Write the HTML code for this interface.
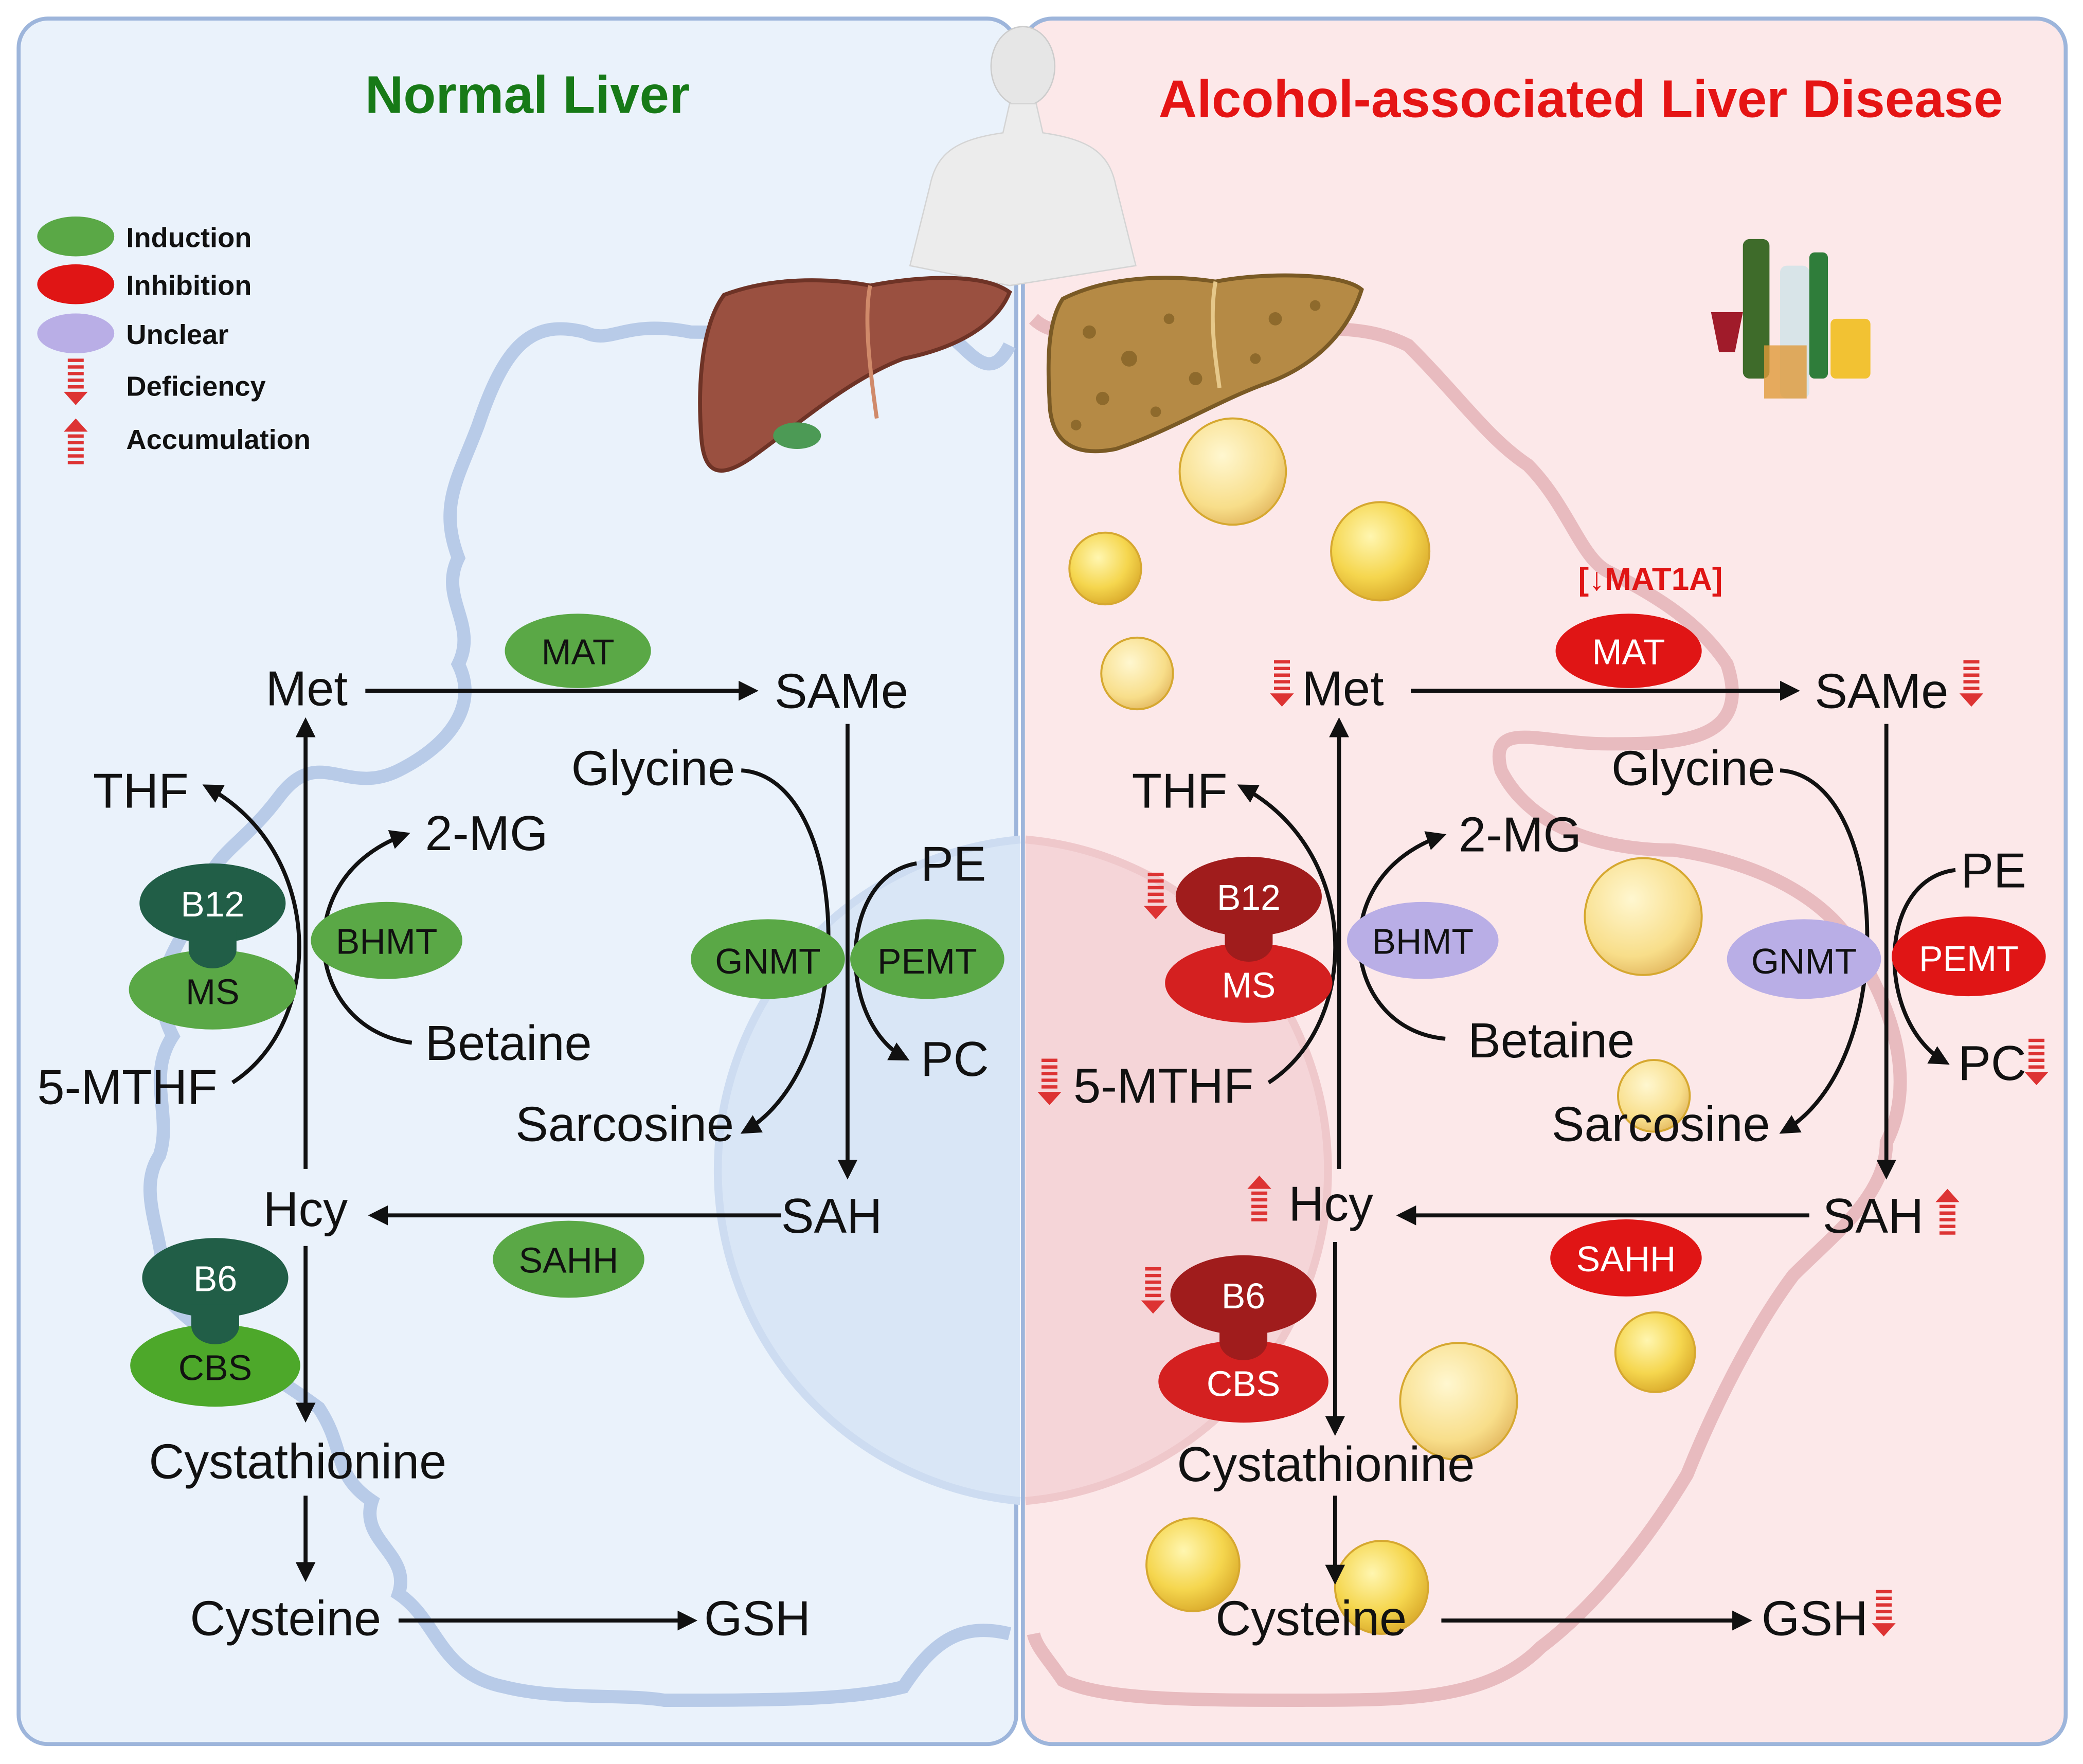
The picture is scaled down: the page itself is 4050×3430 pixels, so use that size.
<!DOCTYPE html>
<html><head><meta charset="utf-8"><style>
html,body{margin:0;padding:0;background:#fff}
svg{display:block}
text{font-family:"Liberation Sans",Arial,sans-serif}
</style></head><body>
<svg width="4050" height="3430" viewBox="0 0 1568 1328" xmlns="http://www.w3.org/2000/svg">
<defs>
<marker id="ah" viewBox="0 0 10 10" refX="8" refY="5" markerWidth="5" markerHeight="5" orient="auto"><path d="M0,0 L10,5 L0,10 z" fill="#111"/></marker>
<radialGradient id="fat" cx="0.4" cy="0.35" r="0.7"><stop offset="0" stop-color="#fff6b0"/><stop offset="0.6" stop-color="#f5d64e"/><stop offset="1" stop-color="#d9a92a"/></radialGradient>
<radialGradient id="fat2" cx="0.4" cy="0.35" r="0.7"><stop offset="0" stop-color="#fff7d0"/><stop offset="0.7" stop-color="#f8de8a"/><stop offset="1" stop-color="#e3b860"/></radialGradient>
<g id="def"><rect x="-6" y="-18" width="12" height="2.5" fill="#d33"/><rect x="-6" y="-13" width="12" height="2.5" fill="#d33"/><rect x="-6" y="-8" width="12" height="2.5" fill="#d33"/><rect x="-6" y="-3" width="12" height="2.5" fill="#d33"/><rect x="-6" y="2" width="12" height="2.5" fill="#d33"/><path d="M-9,7 L9,7 L0,17 z" fill="#d33"/></g>
<g id="acc"><path d="M-9,-7 L9,-7 L0,-17 z" fill="#d33"/><rect x="-6" y="-5" width="12" height="2.5" fill="#d33"/><rect x="-6" y="0" width="12" height="2.5" fill="#d33"/><rect x="-6" y="5" width="12" height="2.5" fill="#d33"/><rect x="-6" y="10" width="12" height="2.5" fill="#d33"/><rect x="-6" y="15" width="12" height="2.5" fill="#d33"/></g>
</defs>
<rect width="1568" height="1328" fill="#fff"/>
<rect x="14" y="14" width="751" height="1299" rx="22" fill="#eaf2fb" stroke="#9db5db" stroke-width="3"/>
<rect x="770" y="14" width="785" height="1299" rx="22" fill="#fce8e9" stroke="#9db5db" stroke-width="3"/>
<!-- nucleus -->
<path d="M768,632 A250,250 0 0 0 768,1130" fill="#d9e6f6" stroke="#cddcf1" stroke-width="6"/>
<path d="M772,632 A250,250 0 0 1 772,1130" fill="#f5d5d8" stroke="#efc8cb" stroke-width="6"/>
<!-- membranes -->
<path d="M760,260 C740,300 720,240 700,250 C680,270 600,250 520,250 C470,240 460,260 440,250 C400,240 380,260 360,320 C345,360 330,380 345,420 C330,450 360,470 345,500 C360,530 340,560 300,580 C260,600 240,560 210,600 C180,640 160,640 150,680 C130,720 110,740 130,780 C110,810 130,840 120,870 C100,900 130,940 120,970 C140,1000 200,1030 240,1060 C260,1090 250,1110 280,1130 C270,1160 310,1170 300,1200 C330,1220 330,1260 380,1270 C420,1280 470,1275 500,1280 C580,1280 640,1280 680,1270 C700,1240 720,1220 760,1230" fill="none" stroke="#b8cbe8" stroke-width="10"/>
<path d="M778,240 C800,260 820,240 900,250 C980,250 1020,240 1060,260 C1100,300 1120,330 1150,350 C1180,380 1190,420 1210,430 C1250,450 1280,470 1300,500 C1320,560 1260,560 1210,560 C1160,560 1120,540 1130,580 C1150,620 1200,640 1260,640 C1330,650 1380,680 1400,720 C1430,770 1440,820 1420,860 C1420,900 1380,930 1350,960 C1320,1000 1290,1060 1270,1110 C1240,1160 1200,1210 1160,1240 C1120,1280 1060,1280 980,1280 C900,1280 830,1280 800,1265 C790,1250 780,1240 778,1230" fill="none" stroke="#e6b6ba" stroke-width="10" opacity="0.9"/>
<!-- human -->
<ellipse cx="770" cy="50" rx="24" ry="30" fill="#e6e6e6" stroke="#ccc"/>
<path d="M760,78 L780,78 L785,100 C820,105 835,115 840,140 L855,200 L760,215 L685,200 L700,140 C705,115 720,105 755,100 z" fill="#ececec" stroke="#d4d4d4"/>
<!-- livers -->
<path d="M545,222 C590,205 640,212 655,215 C690,208 740,205 760,220 C750,245 720,262 680,270 C640,285 600,320 565,345 C540,362 530,355 528,330 C525,290 528,245 545,222 z" fill="#9a5040" stroke="#6e3326" stroke-width="3"/>
<path d="M655,215 C650,240 655,280 660,315" fill="none" stroke="#d08a6a" stroke-width="3"/>
<ellipse cx="600" cy="328" rx="18" ry="10" fill="#4c9a55"/>
<path d="M800,225 C840,205 890,208 915,212 C950,205 1010,205 1025,218 C1015,250 990,275 955,288 C920,300 880,325 840,338 C805,345 790,330 790,300 C788,265 790,240 800,225 z" fill="#b58a45" stroke="#7a5a25" stroke-width="3"/>
<path d="M915,212 C910,240 915,270 918,292" fill="none" stroke="#e6c88a" stroke-width="3"/>
<g fill="#8e6a2c"><circle cx="820" cy="250" r="5"/><circle cx="850" cy="270" r="6"/><circle cx="880" cy="240" r="4"/><circle cx="830" cy="300" r="5"/><circle cx="870" cy="310" r="4"/><circle cx="960" cy="240" r="5"/><circle cx="990" cy="230" r="4"/><circle cx="945" cy="270" r="4"/><circle cx="900" cy="285" r="5"/><circle cx="810" cy="320" r="4"/></g>
<!-- bottles -->
<rect x="1312" y="180" width="20" height="105" rx="5" fill="#3e6b2a"/><rect x="1340" y="200" width="22" height="100" rx="5" fill="#d8e4e8"/><rect x="1362" y="190" width="14" height="95" rx="4" fill="#2f7d3a"/><rect x="1378" y="240" width="30" height="45" rx="4" fill="#f2c233"/><path d="M1288,235 L1312,235 L1306,265 L1294,265 z" fill="#a01b2a"/><rect x="1328" y="260" width="32" height="40" fill="#e09a3a" opacity="0.8"/>
<!-- fat droplets -->
<g stroke="#d6a830" stroke-width="1.5">
<circle cx="928" cy="355" r="40" fill="url(#fat2)"/><circle cx="1039" cy="415" r="37" fill="url(#fat)"/><circle cx="832" cy="428" r="27" fill="url(#fat)"/><circle cx="856" cy="507" r="27" fill="url(#fat2)"/><circle cx="1237" cy="690" r="44" fill="url(#fat2)"/><circle cx="1245" cy="825" r="27" fill="url(#fat2)"/><circle cx="1098" cy="1055" r="44" fill="url(#fat2)"/><circle cx="1246" cy="1018" r="30" fill="url(#fat)"/><circle cx="898" cy="1178" r="35" fill="url(#fat)"/><circle cx="1040" cy="1195" r="35" fill="url(#fat)"/>
</g>
<!-- titles -->
<text x="397" y="85" font-size="40" font-weight="bold" fill="#177a17" text-anchor="middle">Normal Liver</text>
<text x="1190" y="88" font-size="40" font-weight="bold" fill="#e51414" text-anchor="middle">Alcohol-associated Liver Disease</text>
<!-- legend -->
<ellipse cx="57" cy="178" rx="29" ry="15" fill="#5aa846"/><ellipse cx="57" cy="214" rx="29" ry="15" fill="#e01515"/><ellipse cx="57" cy="251" rx="29" ry="15" fill="#b9aee6"/>
<use href="#def" x="57" y="288"/><use href="#acc" x="57" y="332"/>
<g font-size="21" font-weight="bold" fill="#111"><text x="95" y="186">Induction</text><text x="95" y="222">Inhibition</text><text x="95" y="259">Unclear</text><text x="95" y="298">Deficiency</text><text x="95" y="338">Accumulation</text></g>

<g fill="none" stroke="#111" stroke-width="3">
<path d="M275,520 L568,520" marker-end="url(#ah)"/>
<path d="M230,880 L230,543" marker-end="url(#ah)"/>
<path d="M175,815 C245,770 245,640 155,592" marker-end="url(#ah)"/>
<path d="M310,785 C230,775 215,660 306,628" marker-end="url(#ah)"/>
<path d="M558,580 C640,585 650,800 560,852" marker-end="url(#ah)"/>
<path d="M690,650 C630,660 630,770 682,797" marker-end="url(#ah)"/>
<path d="M638,545 L638,885" marker-end="url(#ah)"/>
<path d="M588,915 L280,915" marker-end="url(#ah)"/>
<path d="M230,938 L230,1068" marker-end="url(#ah)"/>
<path d="M230,1126 L230,1188" marker-end="url(#ah)"/>
<path d="M300,1220 L522,1220" marker-end="url(#ah)"/>
<path d="M1062,520 L1352,520" marker-end="url(#ah)"/>
<path d="M1008,880 L1008,543" marker-end="url(#ah)"/>
<path d="M955,815 C1025,770 1025,640 934,592" marker-end="url(#ah)"/>
<path d="M1088,782 C1010,775 995,660 1086,629" marker-end="url(#ah)"/>
<path d="M1340,580 C1422,585 1432,800 1342,852" marker-end="url(#ah)"/>
<path d="M1472,655 C1412,662 1412,770 1465,800" marker-end="url(#ah)"/>
<path d="M1420,545 L1420,885" marker-end="url(#ah)"/>
<path d="M1362,915 L1054,915" marker-end="url(#ah)"/>
<path d="M1005,935 L1005,1078" marker-end="url(#ah)"/>
<path d="M1005,1126 L1005,1190" marker-end="url(#ah)"/>
<path d="M1085,1220 L1316,1220" marker-end="url(#ah)"/>
</g>

<g font-size="27" text-anchor="middle" fill="#111">
<ellipse cx="435" cy="490" rx="55" ry="28" fill="#5aa846"/><text x="435" y="500">MAT</text>
<ellipse cx="160" cy="745" rx="63" ry="30" fill="#5aa846"/><text x="160" y="756">MS</text>
<ellipse cx="160" cy="680" rx="55" ry="30" fill="#215e47"/><path d="M142,700 L142,715 A18,14 0 0 0 178,715 L178,700 z" fill="#215e47"/><text x="160" y="690" fill="#fff">B12</text>
<ellipse cx="291" cy="708" rx="57" ry="29" fill="#5aa846"/><text x="291" y="718">BHMT</text>
<ellipse cx="578" cy="722" rx="58" ry="30" fill="#5aa846"/><text x="578" y="733">GNMT</text>
<ellipse cx="698" cy="722" rx="58" ry="30" fill="#5aa846"/><text x="698" y="733">PEMT</text>
<ellipse cx="428" cy="948" rx="57" ry="29" fill="#5aa846"/><text x="428" y="958">SAHH</text>
<ellipse cx="162" cy="1028" rx="64" ry="31" fill="#4da82a"/><text x="162" y="1039">CBS</text>
<ellipse cx="162" cy="962" rx="55" ry="30" fill="#215e47"/><path d="M144,982 L144,998 A18,14 0 0 0 180,998 L180,982 z" fill="#215e47"/><text x="162" y="972" fill="#fff">B6</text>
</g>
<g font-size="27" text-anchor="middle" fill="#fff">
<ellipse cx="1226" cy="490" rx="55" ry="28" fill="#e01515"/><text x="1226" y="500">MAT</text>
<ellipse cx="940" cy="740" rx="63" ry="30" fill="#d42020"/><text x="940" y="751">MS</text>
<ellipse cx="940" cy="675" rx="55" ry="30" fill="#a01c1c"/><path d="M922,695 L922,710 A18,14 0 0 0 958,710 L958,695 z" fill="#a01c1c"/><text x="940" y="685">B12</text>
<ellipse cx="1071" cy="708" rx="57" ry="29" fill="#b9aee6"/><text x="1071" y="718" fill="#111">BHMT</text>
<ellipse cx="1358" cy="722" rx="58" ry="30" fill="#b9aee6"/><text x="1358" y="733" fill="#111">GNMT</text>
<ellipse cx="1482" cy="720" rx="58" ry="30" fill="#e01515"/><text x="1482" y="731">PEMT</text>
<ellipse cx="1224" cy="947" rx="57" ry="29" fill="#e01515"/><text x="1224" y="957">SAHH</text>
<ellipse cx="936" cy="1040" rx="64" ry="31" fill="#d42020"/><text x="936" y="1051">CBS</text>
<ellipse cx="936" cy="975" rx="55" ry="30" fill="#a01c1c"/><path d="M918,995 L918,1010 A18,14 0 0 0 954,1010 L954,995 z" fill="#a01c1c"/><text x="936" y="985">B6</text>
</g>
<text x="1188" y="444" font-size="24" font-weight="bold" fill="#e01515">[↓MAT1A]</text>

<g font-size="37" fill="#111">
<text x="200" y="531">Met</text><text x="583" y="533">SAMe</text><text x="70" y="608">THF</text><text x="320" y="640">2-MG</text><text x="320" y="798">Betaine</text><text x="28" y="831">5-MTHF</text><text x="430" y="591">Glycine</text><text x="693" y="663">PE</text><text x="693" y="810">PC</text><text x="388" y="859">Sarcosine</text><text x="588" y="928">SAH</text><text x="198" y="923">Hcy</text><text x="112" y="1113">Cystathionine</text><text x="143" y="1231">Cysteine</text><text x="530" y="1231">GSH</text>
<text x="980" y="531">Met</text><text x="1366" y="533">SAMe</text><text x="852" y="608">THF</text><text x="1098" y="641">2-MG</text><text x="1105" y="796">Betaine</text><text x="808" y="830">5-MTHF</text><text x="1213" y="591">Glycine</text><text x="1476" y="668">PE</text><text x="1474" y="813">PC</text><text x="1168" y="859">Sarcosine</text><text x="1372" y="928">SAH</text><text x="970" y="919">Hcy</text><text x="886" y="1115">Cystathionine</text><text x="915" y="1231">Cysteine</text><text x="1326" y="1231">GSH</text>
</g>
<use href="#def" x="965" y="515"/><use href="#def" x="1484" y="515"/><use href="#def" x="870" y="675"/><use href="#def" x="790" y="815"/><use href="#def" x="1533" y="800"/><use href="#def" x="868" y="972"/><use href="#def" x="1418" y="1215"/>
<use href="#acc" x="948" y="902"/><use href="#acc" x="1466" y="912"/>
</svg>
</body></html>
